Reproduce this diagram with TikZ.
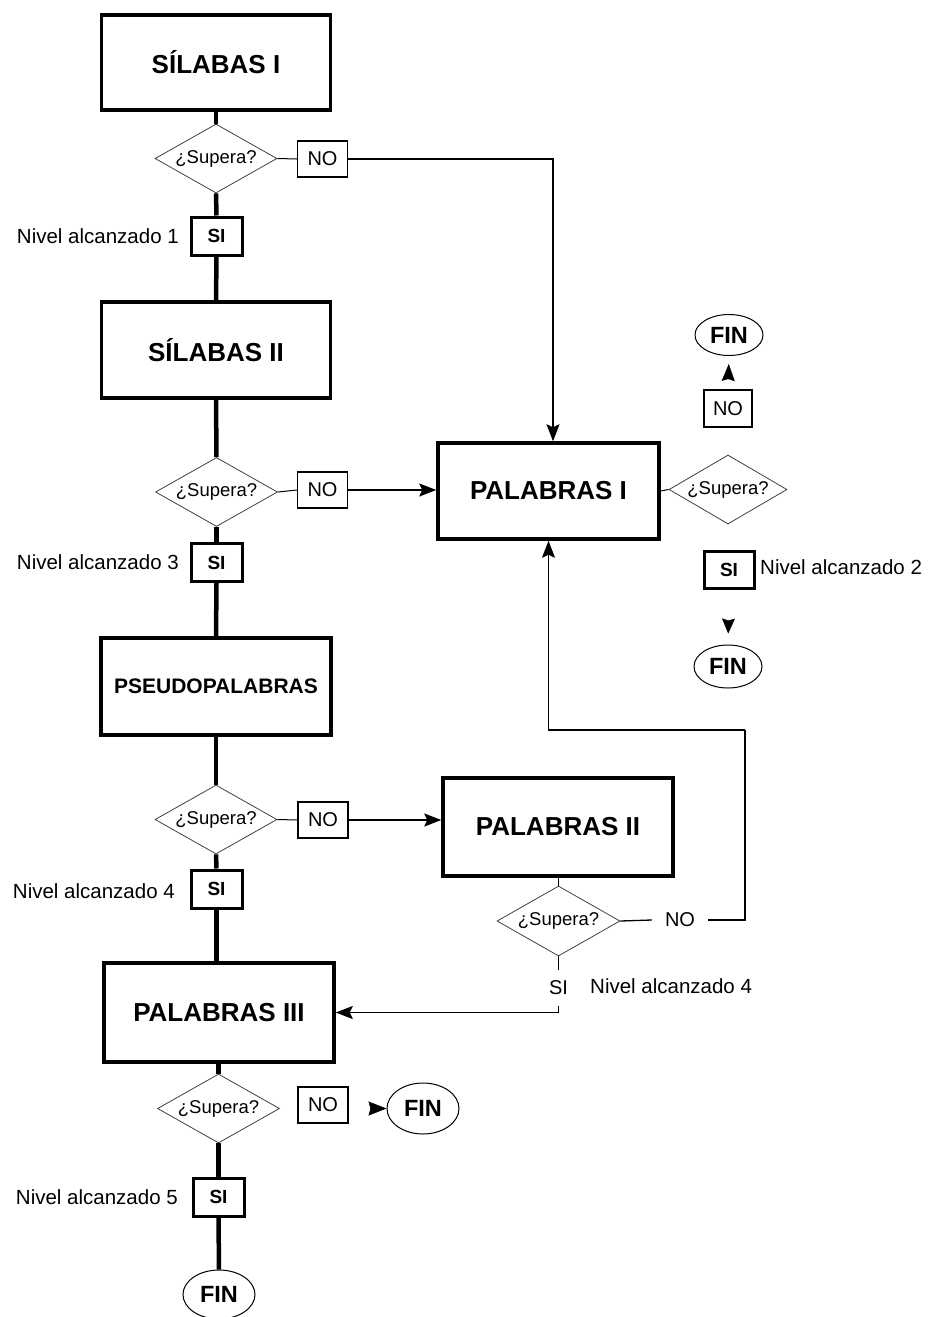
\documentclass[tikz,border=0pt]{standalone}
\usepackage{fontspec}
\setmainfont{Liberation Sans}
\usetikzlibrary{shapes.geometric,arrows.meta,calc}
\begin{document}
\begin{tikzpicture}[x=1pt,y=-1pt,
  bigbox/.style={draw,line width=3.5pt,rectangle,inner sep=0pt,font=\bfseries\fontsize{26}{30}\selectfont},
  pseudobox/.style={bigbox,font=\bfseries\fontsize{21}{25}\selectfont},
  query/.style={draw=black!75,line width=0.8pt,diamond,inner sep=0pt,shape aspect=1.77,minimum width=122pt,minimum height=69pt,font=\fontsize{18.5}{22}\selectfont},
  nobox/.style={draw,line width=1.1pt,rectangle,inner sep=0pt,minimum width=50pt,minimum height=36pt,font=\fontsize{20}{24}\selectfont},
  sibox/.style={draw,line width=3pt,rectangle,inner sep=0pt,minimum width=51pt,minimum height=38pt,font=\bfseries\fontsize{19}{23}\selectfont},
  finnode/.style={draw,line width=1pt,ellipse,inner sep=0pt,minimum width=68pt,minimum height=41pt,font=\bfseries\fontsize{23.5}{28}\selectfont},
  lbl/.style={inner sep=0pt,font=\fontsize{20.5}{24}\selectfont},
  plain/.style={font=\fontsize{20}{24}\selectfont},
  stem/.style={line width=4.5pt},
  thin/.style={line width=1pt},
  arr/.style={line width=1.8pt,-{Stealth[length=17pt,width=13pt,inset=3pt]}},
  tip/.style={line width=0.5pt,-{Stealth[length=17pt,width=13pt,inset=2pt]}}
]
\useasboundingbox (0,0) rectangle (946,1317);

% left column
\node[bigbox,minimum width=229pt,minimum height=95pt] (s1) at (216,62.5) {SÍLABAS I};
\node[query] (d1) at (216,158.5) {¿Supera?};
\node[nobox] (no1) at (322.5,159) {NO};
\node[sibox] (si1) at (216.5,236) {SI};
\node[lbl,anchor=east] (l1) at (179,236) {Nivel alcanzado 1};

\node[bigbox,minimum width=229pt,minimum height=96pt] (s2) at (216,350) {SÍLABAS II};
\node[query] (d2) at (216.5,492) {¿Supera?};
\node[nobox] (no2) at (322.5,490) {NO};
\node[sibox] (si2) at (216.5,562.5) {SI};
\node[lbl,anchor=east] (l3) at (179,562.5) {Nivel alcanzado 3};

\node[pseudobox,minimum width=230pt,minimum height=97pt] (ps) at (216,686.5) {PSEUDOPALABRAS};
\node[query] (d3) at (216,819.5) {¿Supera?};
\node[nobox] (no3) at (323,820) {NO};
\node[sibox] (si3) at (216.5,889) {SI};
\node[lbl,anchor=east] (l4) at (175,891) {Nivel alcanzado 4};

\node[bigbox,minimum width=230pt,minimum height=99pt] (p3) at (219,1012.5) {PALABRAS III};
\node[query] (d5) at (218.5,1108.5) {¿Supera?};
\node[nobox] (no5) at (323,1105) {NO};
\node[finnode,minimum width=72pt,minimum height=51pt] (fin5) at (423,1108.5) {FIN};
\node[sibox] (si5) at (218.5,1197) {SI};
\node[lbl,anchor=east] (l5) at (178,1197) {Nivel alcanzado 5};
\node[finnode,minimum width=72pt,minimum height=49pt] (fin6) at (219,1294.5) {FIN};

% right column
\node[bigbox,minimum width=221pt,minimum height=96pt] (p1) at (548.5,491) {PALABRAS I};
\node[query,minimum width=118pt] (d6) at (728,489.5) {¿Supera?};
\node[nobox,minimum width=48pt,minimum height=37pt] (no6) at (728,408.5) {NO};
\node[finnode] (fin1) at (729,335) {FIN};
\node[sibox,minimum width=50pt,minimum height=37pt] (si6) at (729,569.5) {SI};
\node[lbl,anchor=west] (l2) at (760,567) {Nivel alcanzado 2};
\node[finnode,minimum height=43pt] (fin2) at (728,666.5) {FIN};

\node[bigbox,minimum width=230pt,minimum height=98pt] (p2) at (558,827) {PALABRAS II};
\node[query,minimum width=123pt,minimum height=70pt] (d4) at (558.5,921) {¿Supera?};
\node[plain,inner xsep=13pt,inner ysep=4pt] (no4) at (680,920) {NO};
\node[plain,inner xsep=4pt,inner ysep=11pt] (si4) at (558.5,988) {SI};
\node[lbl,anchor=west] (l4b) at (590,986) {Nivel alcanzado 4};
\coordinate (loop) at (745,730);

% stems
\draw[stem] (s1.south) -- (d1.north);
\draw[stem] (d1.south) -- (si1.north);
\draw[stem] (si1.south) -- (s2.north);
\draw[stem] (s2.south) -- (d2.north);
\draw[stem] (d2.south) -- (si2.north);
\draw[stem] (si2.south) -- (ps.north);
\draw[stem] (ps.south) -- (d3.north);
\draw[stem] (d3.south) -- (si3.north);
\draw[stem] (si3.south) -- (si3.south |- p3.north);
\draw[stem] (p3.south -| d5.north) -- (d5.north);
\draw[stem] (d5.south) -- (si5.north);
\draw[stem] (si5.south) -- (fin6.north);

% NO branches
\draw[thin] (d1.east) -- (no1.west);
\draw[line width=1.4pt,-{Stealth[length=17pt,width=13pt,inset=3pt]}] (no1.east) -| ($(p1.north)+(4.5,0)$);
\draw[thin] (d2.east) -- (no2.west);
\draw[arr] (no2.east) -- (no2.east -| p1.west);
\draw[thin] (d3.east) -- (no3.west);
\draw[arr] (no3.east) -- (no3.east -| p2.west);

% PALABRAS I side
\draw[thin] (p1.east) -- (d6.west);
\draw[tip,shorten <=10pt,shorten >=8pt] (no6.north) -- (fin1.south);
\draw[tip,shorten <=31pt,shorten >=11pt,-{Stealth[length=15pt,width=13pt,inset=2pt]}] (si6.south) -- (fin2.north);

% PALABRAS II side
\draw[thin] (p2.south -| d4.north) -- (d4.north);
\draw[line width=1.3pt] (d4.east) -- (no4.west);
\draw[line width=1.6pt] (no4.east) -| (loop);
\draw[line width=1.6pt,-{Stealth[length=17pt,width=13pt,inset=3pt]}] (loop) -| (p1.south);
\draw[line width=1.3pt] (d4.south) -- (si4.north);
\draw[arr] (si4.south) |- (p3.east);

% PALABRAS III NO
\draw[tip,shorten <=21pt,-{Stealth[length=18pt,width=14pt,inset=2pt]}] (no5.east |- fin5.west) -- (fin5.west);
\end{tikzpicture}
\end{document}
